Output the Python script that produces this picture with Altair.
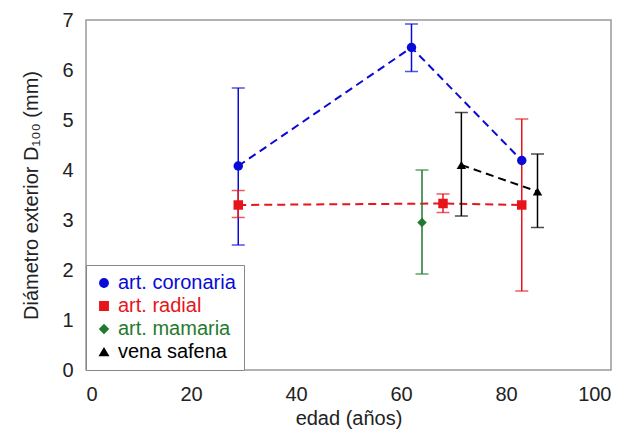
import altair as alt
import pandas as pd

series = ["art. coronaria", "art. coronaria", "art. coronaria",
          "art. radial", "art. radial", "art. radial",
          "art. mamaria",
          "vena safena", "vena safena"]
edad = [29, 62, 83, 29, 68, 83, 64, 71.5, 86]
diam = [4.08, 6.45, 4.19, 3.30, 3.33, 3.30, 2.95, 4.10, 3.57]
lo = [2.50, 5.97, 4.19, 3.05, 3.15, 1.58, 1.92, 3.08, 2.85]
hi = [5.64, 6.92, 4.19, 3.59, 3.52, 5.02, 4.00, 5.15, 4.32]

order = ["art. coronaria", "art. radial", "art. mamaria", "vena safena"]
colors = ["#0a0ad8", "#e8141c", "#1f7a2e", "#000000"]
shapes = ["circle", "square", "diamond", "triangle-up"]

df = pd.DataFrame({"serie": series, "edad": edad, "d": diam, "lo": lo, "hi": hi})
df_err = df[df["lo"] < df["hi"]]

FONT = "Liberation Sans"
xs = alt.Scale(domain=[0, 100], nice=False)
ys = alt.Scale(domain=[0, 7], nice=False)
cs = alt.Scale(domain=order, range=colors)

label_expr = ("datum.value == 'art. coronaria' ? '#0a0ad8' : "
              "datum.value == 'art. radial' ? '#e8141c' : "
              "datum.value == 'art. mamaria' ? '#1f7a2e' : '#000000'")

leg = alt.Legend(orient="bottom-left", offset=0, title=None,
                 labelFontSize=20, labelFont=FONT,
                 labelColor=alt.ExprRef(label_expr),
                 symbolSize=70, symbolOpacity=1, rowPadding=3,
                 padding=8, fillColor="white",
                 strokeColor="#888888", labelLimit=300)

color = alt.Color("serie:N", scale=cs, title=None, legend=leg)

x = alt.X("edad:Q", scale=xs, title="edad (años)",
          axis=alt.Axis(values=[0, 20, 40, 60, 80, 100], ticks=False, grid=False,
                        labelPadding=14, titlePadding=4))
y = alt.Y("d:Q", scale=ys, title="Diámetro exterior D₁₀₀ (mm)",
          axis=alt.Axis(values=list(range(8)), ticks=False, grid=False,
                        labelPadding=13, titlePadding=20))

lines = alt.Chart(df[df["serie"] != "art. mamaria"]).mark_line(
    strokeDash=[8, 5], strokeWidth=2).encode(
    x=x, y=y, color=color, detail="serie:N")

rules = alt.Chart(df_err).mark_rule(strokeWidth=1.5).encode(
    x="edad:Q", y=alt.Y("lo:Q", scale=ys), y2="hi:Q", color=color)
cap_lo = alt.Chart(df_err).mark_tick(orient="horizontal", size=13, thickness=1.5).encode(
    x="edad:Q", y=alt.Y("lo:Q", scale=ys), color=color)
cap_hi = alt.Chart(df_err).mark_tick(orient="horizontal", size=13, thickness=1.5).encode(
    x="edad:Q", y=alt.Y("hi:Q", scale=ys), color=color)

pts = alt.Chart(df).mark_point(filled=True, opacity=1, size=90).encode(
    x=x, y=y, color=color,
    shape=alt.Shape("serie:N", scale=alt.Scale(domain=order, range=shapes),
                    title=None, legend=leg),
)

chart = alt.layer(lines, rules, cap_lo, cap_hi, pts).properties(
    width=525, height=350,
    padding={"top": 2, "left": 13, "right": 5, "bottom": 5},
).configure_view(stroke="#999999", strokeWidth=1.5).configure_axis(
    labelFont=FONT, titleFont=FONT, labelFontSize=20, titleFontSize=20,
    labelColor="#222222", titleColor="#222222", titleFontWeight="normal",
    domain=False,
)

chart.save("out.html", embed_options={"renderer": "svg", "actions": False})
